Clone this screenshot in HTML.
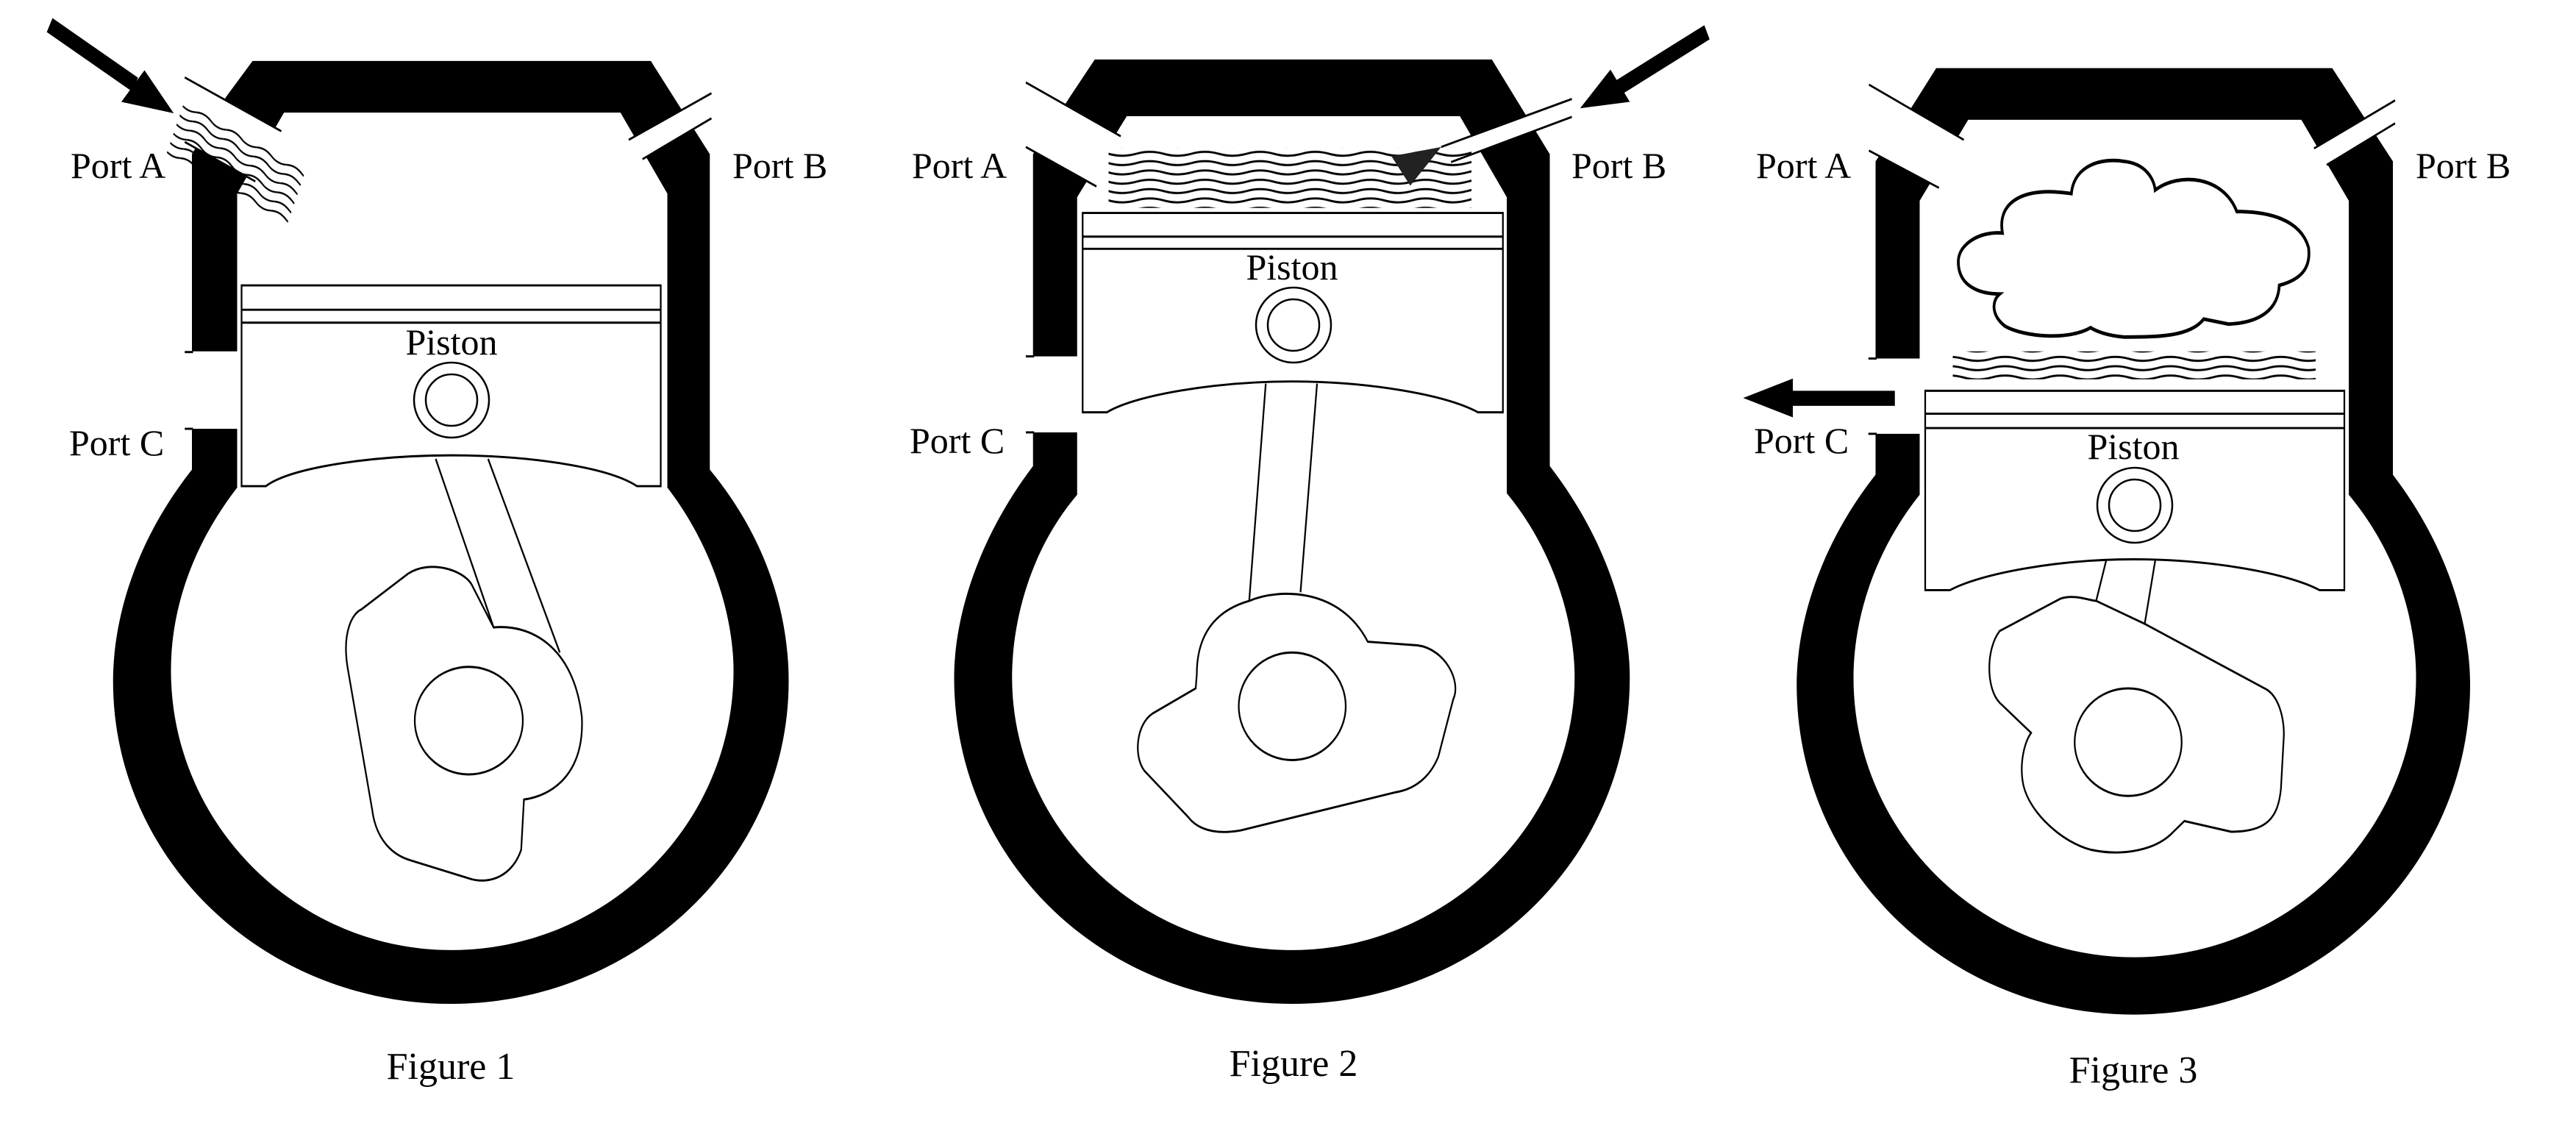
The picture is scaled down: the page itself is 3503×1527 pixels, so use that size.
<!DOCTYPE html>
<html><head><meta charset="utf-8"><style>html,body{margin:0;padding:0;background:#fff}svg{display:block}</style></head>
<body>
<svg width="3503" height="1527" viewBox="0 0 3503 1527" xmlns="http://www.w3.org/2000/svg" font-family="'Liberation Serif', serif">
<defs>
<pattern id="w" width="100" height="13" patternUnits="userSpaceOnUse"><path d="M0,6.5 Q25,1 50,6.5 T100,6.5" fill="none" stroke="#000" stroke-width="3"/></pattern>
<pattern id="w1" width="60" height="14" patternUnits="userSpaceOnUse"><path d="M0,7 Q15,1 30,7 T60,7" fill="none" stroke="#000" stroke-width="2.5"/></pattern>
</defs>
<rect width="3503" height="1527" fill="#fff"/>

<!-- FIGURE 1 -->
<g transform="scale(0.75 0.975)">
<path d="M458,85 L1180,85 L1287,215 L1287,655 C1400,760 1430,870 1430,950 C1430,1200 1150,1400 818,1400 C480,1400 205,1200 205,950 C205,870 240,760 348,655 L348,215 L410,135 Z" fill="#000"/>
<path d="M515,157 L1125,157 L1210,270 L1210,680 C1300,770 1330,870 1330,935 C1330,1150 1100,1325 818,1325 C540,1325 310,1150 310,935 C310,860 340,770 430,680 L430,270 Z" fill="#fff"/>
<polygon points="330,106 512,184 466,256 330,196" fill="#fff"/>
<line x1="335" y1="108" x2="510" y2="183" stroke="#000" stroke-width="3"/>
<line x1="335" y1="198" x2="463" y2="253" stroke="#000" stroke-width="3"/>
<polygon points="1140,195 1290,130 1290,165 1165,222" fill="#fff"/>
<line x1="1140" y1="195" x2="1290" y2="130" stroke="#000" stroke-width="3"/>
<line x1="1165" y1="222" x2="1290" y2="165" stroke="#000" stroke-width="3"/>
<rect x="340" y="490" width="92" height="108" fill="#fff"/>
<line x1="335" y1="491" x2="350" y2="491" stroke="#000" stroke-width="3"/>
<line x1="335" y1="598" x2="350" y2="598" stroke="#000" stroke-width="3"/>
<rect x="335" y="140" width="240" height="84" fill="url(#w1)" transform="rotate(24 335 140)"/>
<line x1="90" y1="35" x2="245" y2="118" stroke="#000" stroke-width="22"/>
<polygon points="220,142 315,158 262,98" fill="#000"/>
<path d="M438,398 H1198 V678 H1155 C1100,650 950,635 818,635 C690,635 530,650 482,678 H438 Z" fill="#fff" stroke="#000" stroke-width="3"/>
<line x1="438" y1="432" x2="1198" y2="432" stroke="#000" stroke-width="3"/>
<line x1="438" y1="450" x2="1198" y2="450" stroke="#000" stroke-width="3"/>
<line x1="790" y1="640" x2="895" y2="875" stroke="#000" stroke-width="3"/>
<line x1="885" y1="640" x2="1015" y2="910" stroke="#000" stroke-width="3"/>
<path d="M895,875 C960,870 1040,900 1055,1000 C1060,1080 1000,1110 950,1115 L945,1185 C930,1220 890,1235 850,1225 L745,1200 C700,1190 680,1160 675,1130 L630,930 C620,880 640,855 655,850 L740,800 C780,780 840,795 855,815 Z" fill="none" stroke="#000" stroke-width="3"/>
<ellipse cx="850" cy="1005" rx="98" ry="75" fill="none" stroke="#000" stroke-width="3"/>
</g>
<circle cx="614" cy="544" r="51" fill="#fff" stroke="#000" stroke-width="2.5"/>
<circle cx="614" cy="544" r="35" fill="none" stroke="#000" stroke-width="2.5"/>
<text x="614" y="482" font-size="50" text-anchor="middle">Piston</text>
<text x="96" y="242" font-size="50">Port A</text>
<text x="996" y="242" font-size="50">Port B</text>
<text x="94" y="619" font-size="50">Port C</text>
<text x="613" y="1467" font-size="52" text-anchor="middle">Figure 1</text>

<!-- FIGURE 2 -->
<g transform="translate(1170 0) scale(0.75 0.975)">
<path d="M425,83 L1145,83 L1250,215 L1250,650 C1360,760 1395,870 1395,945 C1395,1200 1120,1400 783,1400 C440,1400 170,1200 170,945 C170,870 205,760 313,650 L313,215 L380,135 Z" fill="#000"/>
<path d="M483,162 L1087,162 L1172,275 L1172,688 C1260,770 1295,870 1295,945 C1295,1150 1060,1325 783,1325 C500,1325 275,1150 275,945 C275,870 305,770 393,690 L393,275 Z" fill="#fff"/>
<polygon points="296,113 478,192 430,262 296,203" fill="#fff"/>
<line x1="300" y1="115" x2="472" y2="190" stroke="#000" stroke-width="3"/>
<line x1="300" y1="205" x2="428" y2="260" stroke="#000" stroke-width="3"/>
<polygon points="1053,205 1290,138 1290,163 1071,226" fill="#fff"/>
<line x1="1053" y1="205" x2="1290" y2="138" stroke="#000" stroke-width="3"/>
<line x1="1071" y1="226" x2="1290" y2="163" stroke="#000" stroke-width="3"/>
<rect x="305" y="497" width="92" height="106" fill="#fff"/>
<line x1="300" y1="497" x2="315" y2="497" stroke="#000" stroke-width="3"/>
<line x1="300" y1="603" x2="315" y2="603" stroke="#000" stroke-width="3"/>
<line x1="1535" y1="45" x2="1375" y2="122" stroke="#000" stroke-width="22"/>
<polygon points="1305,151 1395,142 1360,97" fill="#000"/>
<rect x="450" y="206" width="658" height="84" fill="url(#w)"/>
<polygon points="963,218 1053,205 997,259" fill="#222"/>
<path d="M403,297 H1165 V575 H1120 C1060,550 920,532 783,532 C650,532 500,550 447,575 H403 Z" fill="#fff" stroke="#000" stroke-width="3"/>
<line x1="403" y1="330" x2="1165" y2="330" stroke="#000" stroke-width="3"/>
<line x1="403" y1="347" x2="1165" y2="347" stroke="#000" stroke-width="3"/>
<line x1="735" y1="535" x2="705" y2="838" stroke="#000" stroke-width="3"/>
<line x1="828" y1="535" x2="798" y2="826" stroke="#000" stroke-width="3"/>
<path d="M705,838 C760,820 870,820 920,895 L1010,900 C1060,905 1090,950 1075,975 L1048,1055 C1035,1080 1010,1100 970,1105 L690,1158 C640,1165 610,1155 595,1140 L515,1075 C495,1055 500,1010 530,995 L608,960 L610,940 C610,880 650,850 705,838 Z" fill="none" stroke="#000" stroke-width="3"/>
<ellipse cx="783" cy="985" rx="97" ry="75" fill="none" stroke="#000" stroke-width="3"/>
</g>
<circle cx="1759" cy="442" r="51" fill="#fff" stroke="#000" stroke-width="2.5"/>
<circle cx="1759" cy="442" r="35" fill="none" stroke="#000" stroke-width="2.5"/>
<text x="1757" y="380" font-size="50" text-anchor="middle">Piston</text>
<text x="1240" y="242" font-size="50">Port A</text>
<text x="2137" y="242" font-size="50">Port B</text>
<text x="1237" y="616" font-size="50">Port C</text>
<text x="1759" y="1463" font-size="52" text-anchor="middle">Figure 2</text>

<!-- FIGURE 3 -->
<g transform="translate(2333 0) scale(0.75 0.975)">
<path d="M400,95 L1118,95 L1228,225 L1228,662 C1335,770 1368,880 1368,955 C1368,1210 1090,1415 758,1415 C420,1415 147,1210 147,955 C147,880 180,770 290,662 L290,225 L355,150 Z" fill="#000"/>
<path d="M458,167 L1062,167 L1148,280 L1148,690 C1240,775 1270,870 1270,945 C1270,1160 1040,1335 758,1335 C480,1335 250,1160 250,945 C250,870 282,775 370,690 L370,280 Z" fill="#fff"/>
<polygon points="274,116 455,196 410,265 274,208" fill="#fff"/>
<line x1="278" y1="118" x2="450" y2="195" stroke="#000" stroke-width="3"/>
<line x1="278" y1="210" x2="405" y2="262" stroke="#000" stroke-width="3"/>
<polygon points="1232,140 1085,207 1108,230 1232,172" fill="#fff"/>
<line x1="1232" y1="140" x2="1085" y2="207" stroke="#000" stroke-width="3"/>
<line x1="1232" y1="172" x2="1108" y2="230" stroke="#000" stroke-width="3"/>
<rect x="282" y="500" width="92" height="105" fill="#fff"/>
<line x1="277" y1="500" x2="292" y2="500" stroke="#000" stroke-width="3"/>
<line x1="277" y1="605" x2="292" y2="605" stroke="#000" stroke-width="3"/>
<rect x="140" y="545" width="185" height="21" fill="#000"/>
<polygon points="50,555 140,528 140,582" fill="#000"/>
<path d="M520,325 C510,280 560,260 645,270 C650,230 700,220 740,225 C780,228 795,250 797,265 C840,240 920,245 945,295 C1000,295 1060,305 1075,345 C1080,375 1060,390 1022,398 C1020,430 990,450 930,452 L885,445 C860,470 800,470 740,470 C710,468 690,462 680,457 C640,475 560,470 525,455 C500,440 500,420 515,410 C480,410 440,400 440,365 C440,340 480,322 520,325 Z" fill="#fff" stroke="#000" stroke-width="5"/>
<rect x="430" y="490" width="658" height="39" fill="url(#w)"/>
<path d="M380,545 H1140 V823 H1095 C1040,800 900,780 758,780 C620,780 480,800 425,823 H380 Z" fill="#fff" stroke="#000" stroke-width="3"/>
<line x1="380" y1="577" x2="1140" y2="577" stroke="#000" stroke-width="3"/>
<line x1="380" y1="597" x2="1140" y2="597" stroke="#000" stroke-width="3"/>
<line x1="708" y1="782" x2="690" y2="838" stroke="#000" stroke-width="3"/>
<line x1="797" y1="782" x2="778" y2="870" stroke="#000" stroke-width="3"/>
<path d="M515,880 L625,835 C650,828 680,838 690,838 L778,870 L1000,962 C1025,975 1032,1010 1030,1030 L1025,1100 C1020,1140 1000,1160 935,1160 L850,1145 L830,1160 C800,1185 740,1195 680,1185 C630,1175 570,1135 558,1095 C550,1065 560,1035 572,1022 L515,980 C490,960 490,905 515,880 Z" fill="none" stroke="#000" stroke-width="3"/>
<ellipse cx="748" cy="1035" rx="97" ry="75" fill="none" stroke="#000" stroke-width="3"/>
</g>
<circle cx="2903" cy="687" r="51" fill="#fff" stroke="#000" stroke-width="2.5"/>
<circle cx="2903" cy="687" r="35" fill="none" stroke="#000" stroke-width="2.5"/>
<text x="2901" y="624" font-size="50" text-anchor="middle">Piston</text>
<text x="2388" y="242" font-size="50">Port A</text>
<text x="3285" y="242" font-size="50">Port B</text>
<text x="2385" y="616" font-size="50">Port C</text>
<text x="2901" y="1472" font-size="52" text-anchor="middle">Figure 3</text>
</svg>
</body></html>
